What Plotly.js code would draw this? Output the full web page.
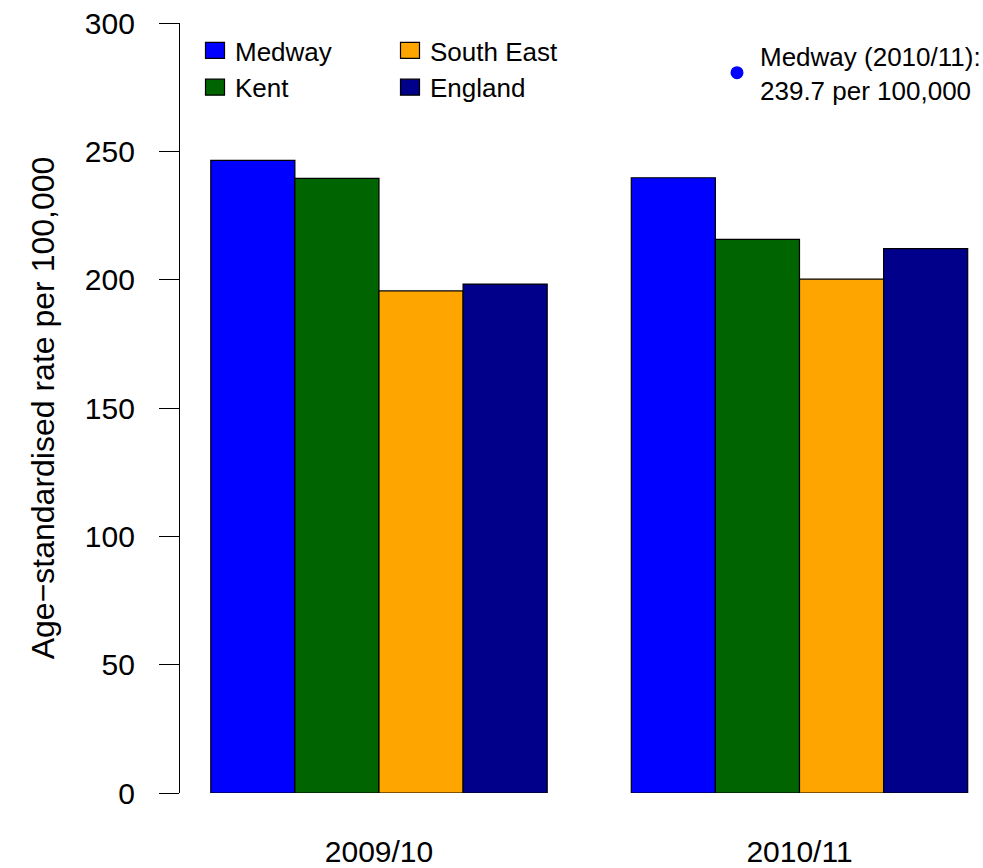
<!DOCTYPE html>
<html>
<head>
<meta charset="utf-8">
<script src="https://cdn.plot.ly/plotly-3.0.1.min.js"></script>
<style>html,body{margin:0;padding:0;background:#fff;}#chart{width:983px;height:868px;}</style>
</head>
<body>
<div id="chart"></div>
<script>
// Data
const years = ["2009/10", "2010/11"];
const areas = ["Medway", "Kent", "South East", "England"];
const medway = [246.5, 239.7];
const kent = [239.5, 215.7];
const southEast = [195.6, 200.2];
const england = [198.3, 212.1];
const colors = ["#0000FF", "#006400", "#FFA500", "#00008B"];
const yTicks = [0, 50, 100, 150, 200, 250, 300];

const FONT = "Liberation Sans, Arial, Helvetica, sans-serif";
const seriesValues = [medway, kent, southEast, england];
const legendIds = ["legend", "legend", "legend2", "legend2"];

const traces = areas.map((name, i) => ({
  type: "bar",
  name: name,
  x: years,
  y: seriesValues[i],
  marker: { color: colors[i], line: { color: "#000000", width: 1.2 } },
  legend: legendIds[i],
  hoverinfo: "x+y+name"
}));

const W = 983, H = 868;
const L = 180, T = 23, B = 75;
const PW = W - L, PH = H - T - B;
const px2x = (px) => (px - L) / PW;
const py2y = (py) => (T + PH - py) / PH;

const legendBase = {
  xref: "paper", yref: "paper",
  xanchor: "left", yanchor: "top",
  orientation: "v",
  font: { family: FONT, size: 26, color: "#000" },
  bgcolor: "rgba(0,0,0,0)", borderwidth: 0,
  tracegroupgap: 0
};

const layout = {
  width: W, height: H,
  paper_bgcolor: "#ffffff", plot_bgcolor: "#ffffff",
  font: { family: FONT, color: "#000000", size: 30 },
  margin: { l: L, r: 0, t: T, b: B, pad: 0, autoexpand: false },
  barmode: "group",
  bargap: 0.2,
  bargroupgap: 0,
  xaxis: {
    type: "category",
    range: [-0.4732, 1.4364],
    showline: false, showgrid: false, zeroline: false,
    ticks: "", ticklen: 0,
    ticklabelstandoff: 38,
    tickfont: { family: FONT, size: 30, color: "#000" },
    fixedrange: true
  },
  yaxis: {
    range: [0, 300],
    tickvals: yTicks,
    ticktext: yTicks.map(String),
    showline: true, linecolor: "#000", linewidth: 1.3,
    ticks: "outside", ticklen: 20, tickwidth: 1.3, tickcolor: "#000",
    ticklabelstandoff: 18,
    showgrid: false, zeroline: false,
    tickfont: { family: FONT, size: 30, color: "#000" },
    title: { text: "Age\u2212standardised rate per 100,000", font: { family: FONT, size: 32, color: "#000" }, standoff: 20 },
    automargin: false,
    fixedrange: true
  },
  showlegend: true,
  legend: Object.assign({}, legendBase, { x: px2x(195), y: py2y(27) }),
  legend2: Object.assign({}, legendBase, { x: px2x(390), y: py2y(27) }),
  shapes: [{
    type: "circle",
    xref: "paper", yref: "paper",
    xsizemode: "pixel", ysizemode: "pixel",
    xanchor: px2x(737),
    yanchor: py2y(72.7),
    x0: -6.5, x1: 6.5, y0: -6.5, y1: 6.5,
    fillcolor: colors[0],
    line: { width: 0 }
  }],
  annotations: [{
    xref: "paper", yref: "paper",
    x: px2x(758),
    y: py2y(74),
    xanchor: "left", yanchor: "middle",
    align: "left",
    showarrow: false,
    text: areas[0] + " (" + years[1] + "):<br>" + medway[1].toFixed(1) + " per 100,000",
    font: { family: FONT, size: 26, color: "#000" }
  }]
};

const gd = document.getElementById("chart");
function enlargeLegendIcons() {
  gd.querySelectorAll(".legendpoints path").forEach(p => {
    p.setAttribute("d", "M9.5,8H-9.5V-8H9.5Z");
  });
}
Plotly.newPlot(gd, traces, layout, { displayModeBar: false }).then(() => {
  enlargeLegendIcons();
  gd.on("plotly_afterplot", enlargeLegendIcons);
});
</script>
</body>
</html>
